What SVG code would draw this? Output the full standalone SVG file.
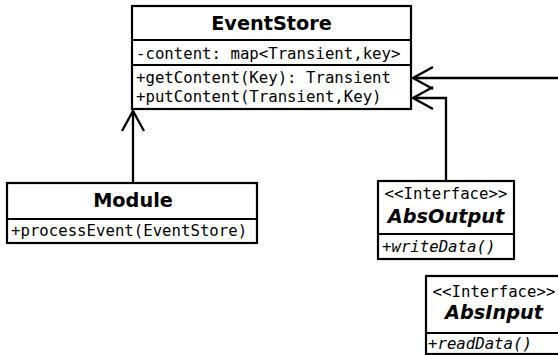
<svg xmlns="http://www.w3.org/2000/svg" width="558" height="355" viewBox="0 0 558 355">
<style>
.box{fill:#fff;stroke:#000;stroke-width:2.2}
.div{stroke:#000;stroke-width:2.2}
.title{font-family:"DejaVu Sans",sans-serif;font-weight:bold;font-size:19.3px;fill:#000;text-anchor:middle}
.abs{font-style:italic}
.mono{font-family:"DejaVu Sans Mono",monospace;font-size:15.7px;fill:#000}
.ster{text-anchor:middle}
.it{font-style:italic}
.conn{fill:none;stroke:#000;stroke-width:2.3}
</style>
<defs>
<marker id="open" markerUnits="userSpaceOnUse" orient="auto" overflow="visible" markerWidth="1" markerHeight="1" refX="0" refY="0">
<path d="M-20,-11 L0,0 L-20,11" fill="none" stroke="#000" stroke-width="2.3"/>
</marker>
</defs>
<rect width="558" height="355" fill="#fff"/>
<g id="connectors">
<polyline class="conn" points="133,183 133,111" marker-end="url(#open)"/>
<polyline class="conn" points="446,181 446,98 413,98" marker-end="url(#open)"/>
<polyline class="conn" points="560,78 413,78" marker-end="url(#open)"/>
</g>
<g id="EventStore">
<rect class="box" x="132" y="6" width="279" height="103"/>
<line class="div" x1="132" y1="40" x2="411" y2="40"/>
<line class="div" x1="132" y1="65" x2="411" y2="65"/>
<text class="title" x="271.5" y="30">EventStore</text>
<text class="mono" x="136" y="59">-content: map&lt;Transient,key&gt;</text>
<text class="mono" x="136" y="83">+getContent(Key): Transient</text>
<text class="mono" x="136" y="102">+putContent(Transient,Key)</text>
</g>
<g id="Module">
<rect class="box" x="7" y="183" width="250" height="60"/>
<line class="div" x1="7" y1="219" x2="257" y2="219"/>
<text class="title" x="133" y="207">Module</text>
<text class="mono" x="11" y="236">+processEvent(EventStore)</text>
</g>
<g id="AbsOutput">
<rect class="box" x="378" y="181" width="136" height="78"/>
<line class="div" x1="378" y1="234" x2="514" y2="234"/>
<text class="mono ster" x="446" y="199">&lt;&lt;Interface&gt;&gt;</text>
<text class="title abs" x="446" y="223">AbsOutput</text>
<text class="mono it" x="382" y="252">+writeData()</text>
</g>
<g id="AbsInput">
<rect class="box" x="426" y="276" width="134" height="78"/>
<line class="div" x1="426" y1="333" x2="560" y2="333"/>
<text class="mono ster" x="494" y="297">&lt;&lt;Interface&gt;&gt;</text>
<text class="title abs" x="494" y="319">AbsInput</text>
<text class="mono it" x="428" y="349">+readData()</text>
</g>
</svg>
